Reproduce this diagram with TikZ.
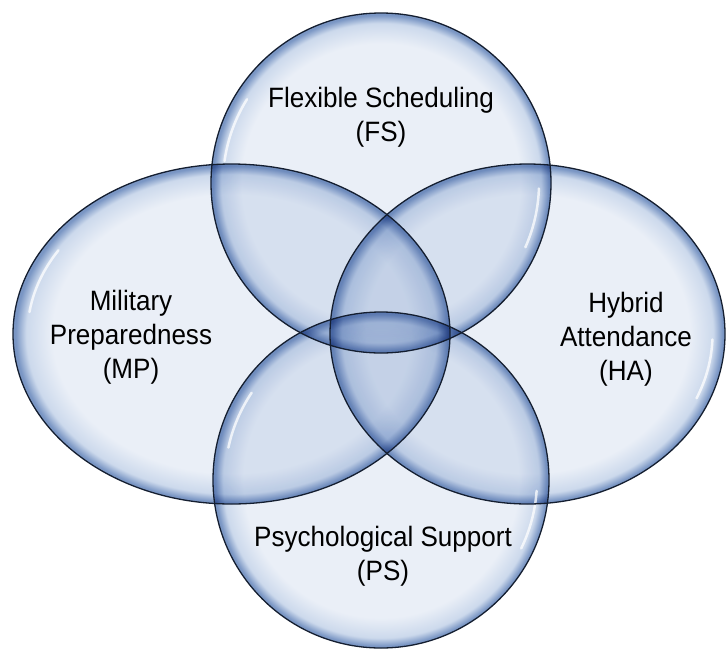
\documentclass[tikz,border=0pt]{standalone}
\usepackage{fontspec}
\setmainfont{Liberation Sans}[FakeStretch=0.93]
\definecolor{glassin}{RGB}{234,239,247}
\definecolor{glassmid}{RGB}{204,217,236}
\definecolor{glassrim}{RGB}{122,150,196}
\definecolor{glassline}{RGB}{20,30,48}
\pgfdeclareradialshading{glass}{\pgfpoint{0bp}{0bp}}{color(0bp)=(glassin); color(20.5bp)=(glassin); color(23.5bp)=(glassmid); color(24.7bp)=(glassrim); color(25bp)=(glassrim); color(50bp)=(glassrim)}

\begin{document}
\begin{tikzpicture}[x=1pt, y=-1pt,
  venntext/.style={align=center, font=\fontsize{28}{34}\selectfont},
  rim/.style={draw=glassline, line width=1.3},
  glint/.style={white, line width=2.5, line cap=round, opacity=0.75}]
\useasboundingbox (0,0) rectangle (726,649);
\begin {scope}[blend group=multiply]
  \shade [shading=glass] (381,183) circle (170);
  \shade [shading=glass] (231.5,334) ellipse (218.5 and 170);
  \shade [shading=glass] (527.5,334) ellipse (197.5 and 170);
  \shade [shading=glass] (381,480) circle (168);
\end {scope}
  % highlights on the glass
  \draw [glint] ([shift={(188:158 and 158)}]381,183) arc (188:212:158 and 158);
  \draw [glint] ([shift={(2:158 and 158)}]381,183) arc (2:24:158 and 158);
  \draw [glint] ([shift={(188:204 and 158)}]231.5,334) arc (188:212:204 and 158);
  \draw [glint] ([shift={(2:185 and 158)}]527.5,334) arc (2:24:185 and 158);
  \draw [glint] ([shift={(192:156 and 156)}]381,480) arc (192:214:156 and 156);
  \draw [glint] ([shift={(4:156 and 156)}]381,480) arc (4:26:156 and 156);
  % outlines
  \draw [rim] (381,183) circle (170);
  \draw [rim] (231.5,334) ellipse (218.5 and 170);
  \draw [rim] (527.5,334) ellipse (197.5 and 170);
  \draw [rim] (381,480) circle (168);
  \draw (381,117) node (fs) [venntext] {Flexible Scheduling\\(FS)};
  \draw (131,337) node (mp) [venntext] {Military\\Preparedness\\(MP)};
  \draw (626,339) node (ha) [venntext] {Hybrid\\Attendance\\(HA)};
  \draw (383,556) node (ps) [venntext] {Psychological Support\\(PS)};
\end{tikzpicture}
\end{document}
